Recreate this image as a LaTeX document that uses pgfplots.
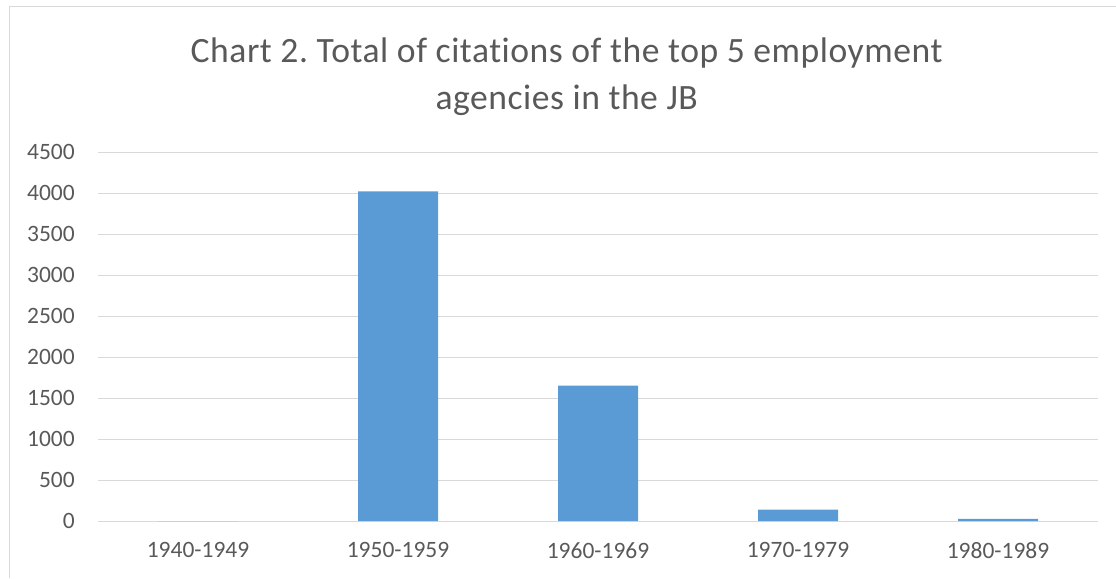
\documentclass[border=0pt]{standalone}
\usepackage{pgfplots}
\pgfplotsset{compat=1.18}
\usepackage{fontspec}
\setmainfont{Carlito}
\newfontfamily\titlefont[LetterSpace=1.5,Ligatures=NoCommon]{Carlito}
\definecolor{barblue}{HTML}{5B9BD5}
\definecolor{txt}{HTML}{595959}
\definecolor{gridc}{HTML}{D9D9D9}
\frenchspacing
\begin{document}
\begin{tikzpicture}
\useasboundingbox (0,0) rectangle (837pt,433.5pt);
\draw[gridc, line width=0.75pt] (6.75pt,0) -- (6.75pt,428.25pt) -- (837pt,428.25pt);
\node[anchor=base, text=txt, font=\titlefont\fontsize{26.7}{30}\selectfont, inner sep=0pt] at (425pt,386.25pt) {Chart 2. Total of citations of the top 5 employment};
\node[anchor=base, text=txt, font=\titlefont\fontsize{26.7}{30}\selectfont, inner sep=0pt] at (425pt,351pt) {agencies in the JB};
\begin{axis}[
  at={(73.5pt,42.75pt)}, anchor=south west,
  width=750pt, height=276.75pt, scale only axis,
  xmin=-0.5, xmax=4.5, ymin=0, ymax=4500,
  xtick={0,1,2,3,4},
  xticklabels={1940-1949,1950-1959,1960-1969,1970-1979,1980-1989},
  ytick={0,500,...,4500},
  ymajorgrids, grid style={gridc, line width=0.75pt},
  axis line style={draw=none},
  major tick length=0pt,
  tick label style={text=txt, font=\fontsize{17.6}{20}\selectfont, inner sep=0pt},
  yticklabel style={anchor=east, xshift=-17.25pt},
  xticklabel style={anchor=north, yshift=-16pt},
  /pgf/number format/assume math mode=true,
  /pgf/number format/1000 sep={},
  ybar, bar width=60pt,
]
\addplot[fill=barblue, draw=none] coordinates {(0,0) (1,4020) (2,1650) (3,140) (4,25)};
\end{axis}
\end{tikzpicture}
\end{document}
